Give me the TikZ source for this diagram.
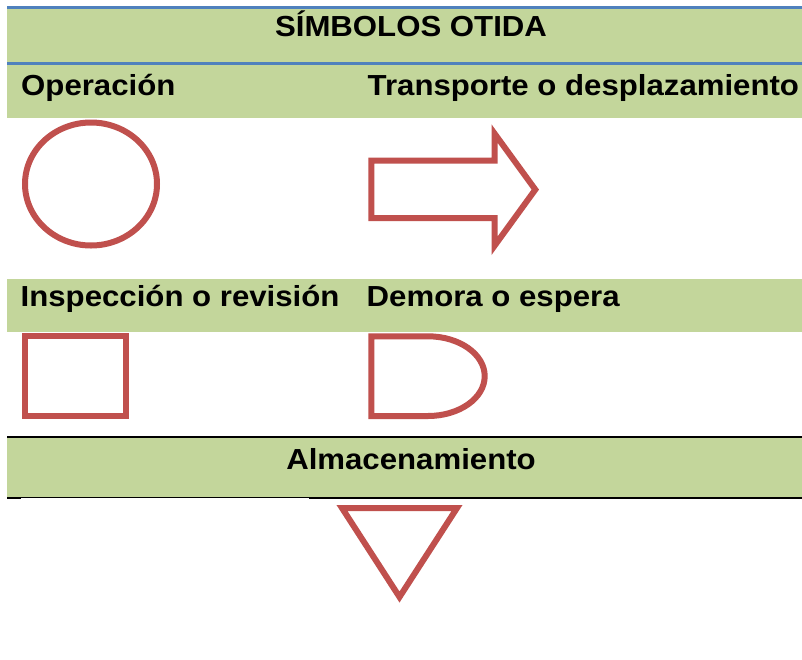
\documentclass[tikz,border=0pt]{standalone}
\usepackage{fontspec}
\setmainfont{Liberation Sans}
\definecolor{bandgreen}{HTML}{C3D69B}
\definecolor{symred}{HTML}{C0504D}
\definecolor{lineblue}{HTML}{4F81BD}
\newcommand{\wtext}[1]{\scalebox{1.075}[1]{#1}}
\tikzset{
  band/.style={fill=bandgreen, draw=none},
  sym/.style={draw=symred, line width=6pt, line join=miter, fill=white},
  label/.style={inner sep=0pt, font=\fontsize{29}{33}\selectfont\bfseries, text=black},
}
\begin{document}
\begin{tikzpicture}[x=1pt,y=-1pt]
\useasboundingbox (0,0) rectangle (802,659);
\fill[white] (0,0) rectangle (802,659);
% bands
\path[band] (7,8.5) rectangle (802,62.5);
\path[band] (7,64.5) rectangle (802,118.3);
\path[band] (7,279) rectangle (802,332);
\path[band] (7,437.5) rectangle (802,496.5);
% rules
\draw[lineblue, line width=2.7pt] (7,7.3) -- (802,7.3);
\draw[lineblue, line width=2.7pt] (7,63.5) -- (802,63.5);
\draw[black, line width=2pt] (7,436.7) -- (802,436.7);
\draw[black, line width=2pt] (7,497.7) -- (21,497.7);
\draw[black, line width=1.3pt] (21,497.3) -- (309,497.3);
\draw[black, line width=2pt] (309,497.7) -- (802,497.7);
% texts
\node[label, anchor=base] (title) at (411,36.7) {\wtext{SÍMBOLOS OTIDA}};
\node[label, anchor=base west] (op) at (21,95) {\wtext{Operación}};
\node[label, anchor=base west] (tr) at (367.5,95) {\wtext{Transporte o desplazamiento}};
\node[label, anchor=base west] (insp) at (20.5,306) {\wtext{Inspección o revisión}};
\node[label, anchor=base west] (dem) at (366.5,306) {\wtext{Demora o espera}};
\node[label, anchor=base] (alm) at (411,469.3) {\wtext{Almacenamiento}};
% symbols
\draw[sym] (91,184) ellipse [x radius=66, y radius=61.5];
\draw[sym] (371.3,160.7) -- (494.5,160.7) -- (494.5,133.5) -- (535.3,189.6)
  -- (494.5,245.8) -- (494.5,218) -- (371.3,218) -- cycle;
\draw[sym] (24.8,336) rectangle (126,415.8);
\draw[sym] (371.3,336.3) -- (428,336.3) arc[start angle=-90, end angle=90, x radius=56.7, y radius=39.85]
  -- (371.3,416) -- cycle;
\draw[sym] (342,508) -- (457,508) -- (399.5,597) -- cycle;
\end{tikzpicture}
\end{document}
